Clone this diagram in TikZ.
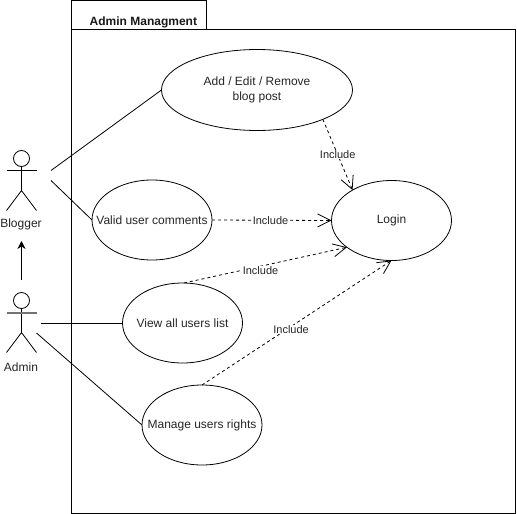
\documentclass[tikz,border=0pt]{standalone}
\usepackage{fontspec}
\setmainfont{Liberation Sans}
\usetikzlibrary{shapes.geometric,arrows.meta}
\newcommand\ztext[1]{\raisebox{-1pt}{\makebox[0pt][c]{#1}}}
\tikzset{
  ln/.style={draw=black,line width=0.8pt},
  usecase/.style={ellipse,ln,fill=white,inner sep=0pt,outer sep=0pt,align=center,
    font=\fontsize{12}{15}\selectfont,text=black!85},
  incl/.style={ln,line width=0.8pt,dash pattern=on 3pt off 3pt,
    -{Straight Barb[length=13pt,width=13pt,line width=0.8pt]}},
  incllabel/.style={fill=white,inner sep=0.5pt,font=\fontsize{11}{13}\selectfont,text=black!85},
  actorlabel/.style={inner sep=0pt,font=\fontsize{12}{14}\selectfont,text=black!85},
  title/.style={inner sep=0pt,font=\bfseries\fontsize{12}{14}\selectfont,text=black!90},
  assoc/.style={ln}
}
\begin{document}
\begin{tikzpicture}[x=1pt,y=-1pt]
\useasboundingbox (0,0) rectangle (517,514);
\fill[white] (0,0) rectangle (517,514);
% package
\draw[ln] (71.5,29) -- (71.5,0.5) -- (206,0.5) -- (206,29);
\draw[ln] (71.5,29.5) rectangle (515.5,513);
\node[title,anchor=west] (pkg) at (89.5,22.5) {Admin Managment};
% use cases
\node[usecase,minimum width=191pt,minimum height=81pt] (add) at (257,90) {\ztext{Add / Edit / Remove}\\\ztext{blog post}};
\node[usecase,minimum width=120pt,minimum height=80pt] (valid) at (152,220) {\ztext{Valid user comments}};
\node[usecase,minimum width=120pt,minimum height=80pt] (login) at (391.5,220.5) {\ztext{Login}};
\node[usecase,minimum width=120pt,minimum height=80pt] (view) at (182.5,323) {\ztext{View all users list}};
\node[usecase,minimum width=120pt,minimum height=80pt] (manage) at (202,425) {\ztext{Manage users rights}};
% actors
\node[circle,ln,minimum size=16pt,inner sep=0pt] (bhead) at (21.5,158.5) {};
\coordinate (bhip) at (21.5,190.5);
\draw[ln] (bhead.south) -- (bhip);
\draw[ln] (6.5,170.5) -- (36.5,170.5);
\draw[ln] (6.5,210.5) -- (bhip) -- (36.5,210.5);
\node[actorlabel] (blogger) at (21,224) {Blogger};
\node[circle,ln,minimum size=16pt,inner sep=0pt] (ahead) at (21.5,300.5) {};
\coordinate (ahip) at (21.5,332.5);
\draw[ln] (ahead.south) -- (ahip);
\draw[draw=black!55,line width=1.6pt] (6.5,313) -- (36.5,313);
\draw[ln] (6.5,352.5) -- (ahip) -- (36.5,352.5);
\node[actorlabel] (admin) at (21,367) {Admin};
% generalisation
\coordinate (gstart) at (21.5,280);
\coordinate (gend) at (21.5,241);
\draw[ln,-{Stealth[length=8pt,width=8pt]}] (gstart) -- (gend);
% associations
\coordinate (b1) at (51,170.5);
\coordinate (b2) at (51,180.5);
\coordinate (a1) at (41,323);
\coordinate (a2) at (36.5,333);
\draw[assoc] (b1) -- (add.west);
\draw[assoc] (b2) -- (valid.west);
\draw[assoc] (a1) -- (view.west);
\draw[assoc] (a2) -- (manage.west);
% includes
\draw[incl] (add.-24) -- (login.142) node[incllabel,pos=0.5] (l1) {Include};
\draw[incl] (valid.east) -- (login.west) node[incllabel,pos=0.49] (l2) {Include};
\draw[incl] (view.88) -- (login.211) node[incllabel,pos=0.47,yshift=-4pt] (l3) {Include};
\draw[incl] (manage.90) -- (login.-90) node[incllabel,pos=0.47,yshift=-3pt] (l4) {Include};
\end{tikzpicture}
\end{document}
